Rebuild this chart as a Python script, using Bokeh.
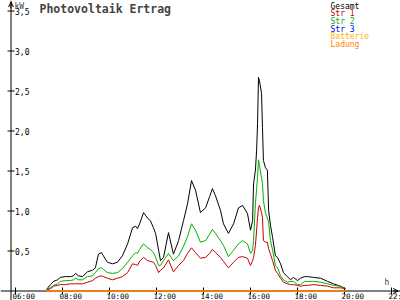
import math
from bokeh.plotting import figure
from bokeh.models import Range1d, Span, Label, Arrow, OpenHead
from bokeh.embed import file_html
from bokeh.resources import INLINE
from bokeh.core.properties import value

# ---- data (hours of day, kW) ----
times = [7.32, 7.49, 7.62, 7.79, 7.91, 8.13, 8.34, 8.47, 8.55, 8.68,
         8.85, 9.06, 9.28, 9.40, 9.53, 9.66, 9.74, 9.91, 10.13, 10.34,
         10.55, 10.77, 10.98, 11.11, 11.19, 11.28, 11.45, 11.62, 11.74, 11.87,
         11.96, 12.09, 12.17, 12.30, 12.51, 12.72, 12.94, 13.15, 13.32, 13.49,
         13.66, 13.87, 14.09, 14.26, 14.38, 14.51, 14.72, 14.85, 15.06, 15.28,
         15.49, 15.66, 15.87, 16.00, 16.09, 16.13, 16.21, 16.26, 16.30, 16.34,
         16.38, 16.47, 16.51, 16.55, 16.64, 16.72, 16.77, 16.85, 16.94, 17.06,
         17.15, 17.28, 17.40, 17.57, 17.70, 17.83, 18.00, 18.13, 18.30, 18.43,
         18.68, 18.98, 19.28, 19.53, 19.83, 20.04]

gesamt = [0.02, 0.08, 0.12, 0.14, 0.17, 0.18, 0.18, 0.19, 0.22, 0.19,
          0.18, 0.24, 0.26, 0.29, 0.46, 0.48, 0.44, 0.36, 0.34, 0.36,
          0.44, 0.59, 0.79, 0.81, 0.78, 0.84, 0.98, 0.91, 0.88, 0.79,
          0.72, 0.51, 0.38, 0.42, 0.73, 0.46, 0.63, 0.88, 1.09, 1.38,
          1.26, 0.98, 1.04, 1.18, 1.28, 1.19, 1.01, 0.84, 0.72, 0.84,
          1.04, 1.07, 0.97, 0.76, 0.88, 1.34, 1.51, 1.76, 2.09, 2.67,
          2.63, 2.47, 2.04, 1.63, 1.54, 1.51, 1.01, 0.82, 0.67, 0.44,
          0.42, 0.34, 0.23, 0.18, 0.14, 0.17, 0.13, 0.16, 0.18, 0.18,
          0.17, 0.16, 0.12, 0.09, 0.06, 0.03]

str2 = [0.02, 0.04, 0.07, 0.09, 0.12, 0.13, 0.13, 0.14, 0.16, 0.14,
        0.14, 0.18, 0.19, 0.23, 0.28, 0.29, 0.27, 0.23, 0.22, 0.23,
        0.28, 0.36, 0.44, 0.48, 0.47, 0.52, 0.59, 0.54, 0.52, 0.48,
        0.42, 0.32, 0.32, 0.38, 0.47, 0.38, 0.44, 0.56, 0.68, 0.84,
        0.76, 0.61, 0.63, 0.71, 0.77, 0.72, 0.63, 0.57, 0.43, 0.51,
        0.59, 0.63, 0.59, 0.47, 0.51, 0.63, 1.09, 1.28, 1.42, 1.64,
        1.57, 1.41, 1.34, 1.13, 0.97, 0.91, 0.86, 0.63, 0.51, 0.32,
        0.29, 0.19, 0.14, 0.11, 0.12, 0.12, 0.08, 0.08, 0.12, 0.12,
        0.12, 0.11, 0.09, 0.07, 0.06, 0.03]

str1 = [0.01, 0.03, 0.06, 0.07, 0.08, 0.08, 0.09, 0.09, 0.09, 0.09,
        0.09, 0.11, 0.13, 0.16, 0.18, 0.19, 0.18, 0.16, 0.14, 0.16,
        0.18, 0.23, 0.34, 0.33, 0.32, 0.37, 0.42, 0.38, 0.37, 0.36,
        0.32, 0.23, 0.26, 0.29, 0.39, 0.24, 0.32, 0.38, 0.47, 0.54,
        0.48, 0.41, 0.42, 0.47, 0.52, 0.48, 0.42, 0.37, 0.29, 0.36,
        0.42, 0.43, 0.41, 0.32, 0.38, 0.42, 0.57, 0.76, 0.92, 1.04,
        1.07, 0.98, 0.92, 0.63, 0.61, 0.61, 0.53, 0.46, 0.38, 0.26,
        0.22, 0.16, 0.11, 0.09, 0.08, 0.08, 0.07, 0.06, 0.07, 0.07,
        0.08, 0.07, 0.06, 0.04, 0.04, 0.03]

zero_times = [7.32, 20.04]
str3 = [0.0, 0.0]
batterie = [0.0, 0.0]
ladung = [0.0, 0.0]

series_names = ["Gesamt", "Str 1", "Str 2", "Str 3", "Batterie", "Ladung"]
series_colors = ["#000000", "#c40000", "#00b000", "#0000ff", "#ffb000", "#ff8000"]

x_tick_values = [6, 8, 10, 12, 14, 16, 18, 20, 22]
x_tick_labels = ["06:00", "08:00", "10:00", "12:00", "14:00", "16:00", "18:00", "20:00", "22:00"]
y_tick_values = [0.5, 1.0, 1.5, 2.0, 2.5, 3.0, 3.5]
y_tick_labels = ["0,5", "1,0", "1,5", "2,0", "2,5", "3,0", "3,5"]

title_text = "Photovoltaik Ertrag"
y_unit = "kW"
x_unit = "h"

# ---- figure ----
PX_PER_H = 23.5
X0 = 6 - 15 / PX_PER_H
X1 = 6 + 385 / PX_PER_H
Y0 = -9.5 / 80
Y1 = 290.5 / 80
AXIS_X = 6 + (10.5 - 15) / PX_PER_H

p = figure(width=400, height=300, x_range=Range1d(X0, X1), y_range=Range1d(Y0, Y1),
           toolbar_location=None, output_backend="svg", min_border=0)
p.min_border_left = p.min_border_right = p.min_border_top = p.min_border_bottom = 0
p.axis.visible = False
p.xgrid.visible = False
p.ygrid.visible = False
p.outline_line_color = None
p.background_fill_color = "white"
p.border_fill_color = "white"

FONT = "DejaVu Sans Mono"

# axes (drawn beneath the data lines)
p.add_layout(Span(location=0, dimension="width", line_color="black", line_width=1,
                  level="underlay"))
p.add_layout(Span(location=AXIS_X, dimension="height", line_color="black", line_width=1,
                  level="underlay"))
p.add_layout(Arrow(end=OpenHead(size=5, line_color="black", line_width=1),
                   x_start=X1 - 0.3, y_start=0, x_end=X1 - 0.1, y_end=0,
                   line_color="black", line_width=1))
p.add_layout(Arrow(end=OpenHead(size=5, line_color="black", line_width=1),
                   x_start=AXIS_X, y_start=Y1 - 0.1, x_end=AXIS_X, y_end=Y1 - 0.02,
                   line_color="black", line_width=1))

# ticks
p.scatter(x=[AXIS_X] * len(y_tick_values), y=y_tick_values, marker="dash", size=7,
          line_color="black", line_width=1)
p.scatter(x=x_tick_values, y=[0] * len(x_tick_values), marker="dash", size=7,
          angle=math.pi / 2, line_color="black", line_width=1)

# tick labels
p.text(x=x_tick_values, y=[0] * len(x_tick_values), text=x_tick_labels,
       text_font=value(FONT), text_font_size="7.5px", text_align="left",
       text_baseline="top", x_offset=-3, y_offset=1, text_color="black")
p.text(x=[AXIS_X] * len(y_tick_values), y=y_tick_values, text=y_tick_labels,
       text_font=value(FONT), text_font_size="8px", text_align="left",
       text_baseline="middle", x_offset=4, y_offset=0, text_color="black")

# series lines
p.line(zero_times, str3, line_color=series_colors[3], line_width=1)
p.line(times, gesamt, line_color=series_colors[0], line_width=1)
p.line(times, str2, line_color=series_colors[2], line_width=1)
p.line(times, str1, line_color=series_colors[1], line_width=1)
p.line(zero_times, batterie, line_color=series_colors[4], line_width=1)
p.line(zero_times, ladung, line_color=series_colors[5], line_width=1.3)

# units and title
p.add_layout(Label(x=14, y=299, x_units="screen", y_units="screen", text=y_unit,
                   text_font=FONT, text_font_size="8px", text_baseline="top"))
p.add_layout(Label(x=384, y=23, x_units="screen", y_units="screen", text=x_unit,
                   text_font=FONT, text_font_size="8px", text_baseline="top"))
p.add_layout(Label(x=39, y=299, x_units="screen", y_units="screen", text=title_text,
                   text_font=FONT, text_font_size="11.5px", text_font_style="bold",
                   text_baseline="top"))

# legend as coloured texts
for i, (name, col) in enumerate(zip(series_names, series_colors)):
    p.add_layout(Label(x=330, y=299 - i * 7.7, x_units="screen", y_units="screen",
                       text=name, text_color=col, text_font=FONT,
                       text_font_size="8px", text_baseline="top"))

open("out.html", "w").write(file_html(p, INLINE))
